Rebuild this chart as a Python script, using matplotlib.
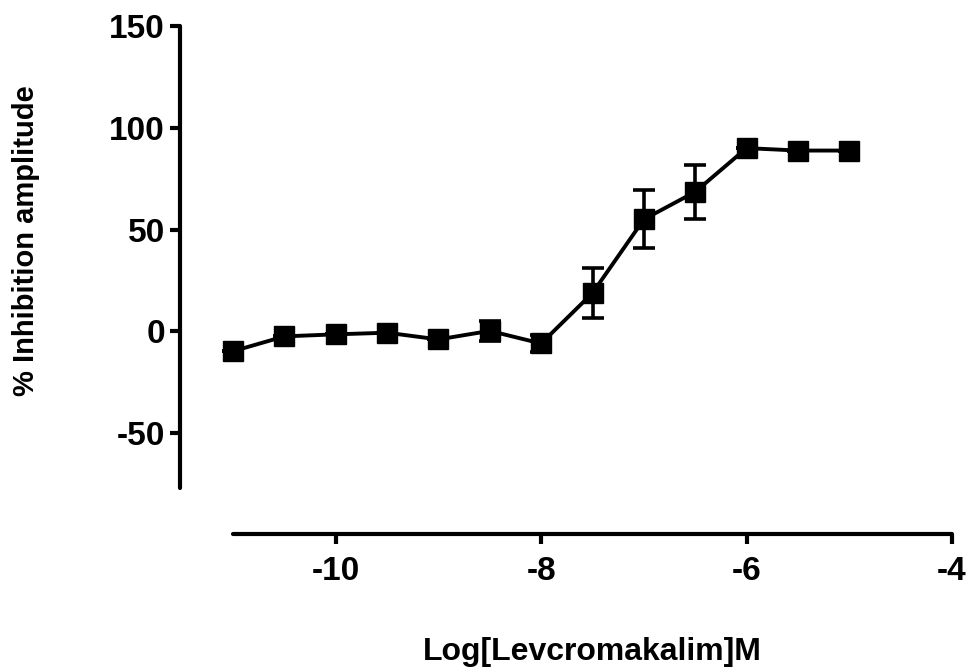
import matplotlib
matplotlib.use("Agg")
import matplotlib.pyplot as plt

# concentration (log M) and response
log_conc = [-11, -10.5, -10, -9.5, -9, -8.5, -8, -7.5, -7, -6.5, -6, -5.5, -5]
inhibition = [-9.8, -2.5, -1.5, -0.7, -4.0, 0.2, -6.0, 18.8, 55.0, 68.5, 90.0, 88.8, 88.8]
sem = [0.0, 0.0, 0.0, 0.0, 0.0, 5.0, 4.0, 12.3, 14.2, 13.1, 0.0, 0.0, 0.0]

x_ticks = [-10, -8, -6, -4]
y_ticks = [-50, 0, 50, 100, 150]

plt.rcParams['font.family'] = ['Liberation Sans', 'DejaVu Sans']
plt.rcParams['font.weight'] = 'bold'
plt.rcParams['axes.unicode_minus'] = False

W, H = 969, 671
fig = plt.figure(figsize=(W / 100, H / 100), dpi=100)
ax = fig.add_axes([233 / W, 1 - 488 / H, (952 - 233) / W, (488 - 26) / H])

ax.errorbar(log_conc, inhibition, yerr=sem, color='black', linewidth=2.8,
            marker='s', markersize=14, elinewidth=2.6, capsize=8, capthick=2.6,
            clip_on=False, zorder=3)

ax.set_xlim(-11, -4)
ax.set_ylim(-77, 150)
ax.set_xticks(x_ticks)
ax.set_yticks(y_ticks)

# Prism-style detached axes
for side in ['top', 'right']:
    ax.spines[side].set_visible(False)
ax.spines['left'].set_position(('outward', 38))
ax.spines['bottom'].set_position(('outward', 33))
for side in ['left', 'bottom']:
    ax.spines[side].set_linewidth(3)
    ax.spines[side].set_capstyle('round')

ax.tick_params(axis='both', width=3, length=7, labelsize=24)
ax.tick_params(axis='y', pad=4)
ax.tick_params(axis='x', pad=9)
for lbl in ax.get_xticklabels() + ax.get_yticklabels():
    lbl.set_fontweight('bold')

ax.set_ylabel('% Inhibition amplitude', fontsize=21, fontweight='bold')
ax.yaxis.set_label_coords(-0.268, 0.535)
ax.set_xlabel('Log[Levcromakalim]M', fontsize=23, fontweight='bold')
ax.xaxis.set_label_coords(0.50, -0.322)

fig.savefig('out.png', dpi=100)
